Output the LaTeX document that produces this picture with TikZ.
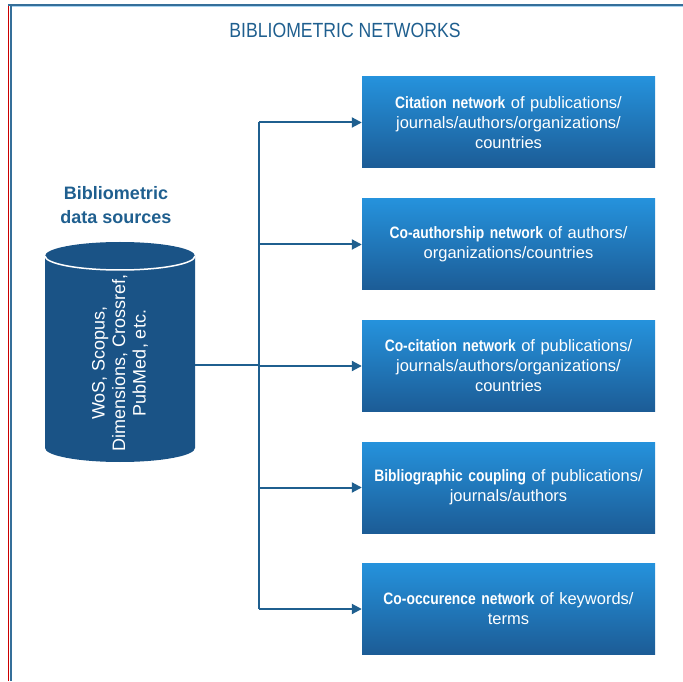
\documentclass[tikz,border=0pt]{standalone}
\usepackage{fontspec}
\setmainfont{Liberation Sans}
\newfontfamily\narrowfont[FakeStretch=0.86]{Liberation Sans}
\newfontfamily\narrowbold[FakeStretch=0.84]{Liberation Sans}
\usetikzlibrary{arrows.meta}
\definecolor{netblue}{HTML}{1F5F8F}
\definecolor{boxtop}{HTML}{2592DC}
\definecolor{boxbot}{HTML}{1C5C96}
\definecolor{cylblue}{HTML}{1A5386}
\newcommand\netkey[1]{{\narrowbold\bfseries #1}}
\begin{document}
\begin{tikzpicture}[x=1pt,y=1pt,
  netbox/.style={minimum width=293pt, minimum height=91pt, inner sep=0pt,
    top color=boxtop, bottom color=boxbot, text=white, align=center,
    text width=285pt, font=\fontsize{16.5}{20}\selectfont},
  link/.style={draw=netblue, line width=2pt},
  tip/.style={link, -{Triangle[length=10pt,width=10pt]}}]
\useasboundingbox (0,0) rectangle (683,681);
% frame
\draw [red!80!black, line width=1pt] (8.5,0) -- (8.5,676);
\draw [netblue!90, line width=2.5pt] (11,0) -- (11,676);
\draw [netblue!90, line width=2pt] (8,676) -- (683,676);
\draw [boxtop!40, line width=1pt] (12,674) -- (683,674);
\draw (345,651) node (title) [text=netblue, font=\narrowfont\fontsize{20.5}{24}\selectfont] {BIBLIOMETRIC NETWORKS};

% data sources
\draw (116,476) node (srclabel) [text=netblue, align=center, font=\bfseries\fontsize{18}{24}\selectfont] {Bibliometric\\data sources};
\fill [cylblue] (45,425) -- (45,233) arc [start angle=180, end angle=360, x radius=75, y radius=14]
  -- (195,425) arc [start angle=0, end angle=180, x radius=75, y radius=14] -- cycle;
\draw [white, line width=1.5pt] (45,425) arc [start angle=180, end angle=360, x radius=75, y radius=14];
\draw (120,318) node (srctxt) [rotate=90, text=white, align=center, font=\fontsize{18}{20.5}\selectfont] {WoS, Scopus,\\Dimensions, Crossref,\\PubMed, etc.};
\coordinate (srcout) at (195,316);
\coordinate (jn) at (259,316);

% networks
\node (box1) [netbox] at (508.5,558.5) {\netkey{Citation network} of publications/\\journals/authors/organizations/\\countries};
\node (box2) [netbox] at (508.5,436.5) {\netkey{Co-authorship network} of authors/\\organizations/countries};
\node (box3) [netbox] at (508.5,315) {\netkey{Co-citation network} of publications/\\journals/authors/organizations/\\countries};
\node (box4) [netbox] at (508.5,193.5) {\netkey{Bibliographic coupling} of publications/\\journals/authors};
\node (box5) [netbox] at (508.5,72) {\netkey{Co-occurence network} of keywords/\\terms};

\draw [link] (srcout) -- (jn);
\draw [link] (box1.west -| jn) -- (box5.west -| jn);
\foreach \b in {1,...,5}
  \draw [tip] (box\b.west -| jn) -- (box\b.west);
\end{tikzpicture}
\end{document}
